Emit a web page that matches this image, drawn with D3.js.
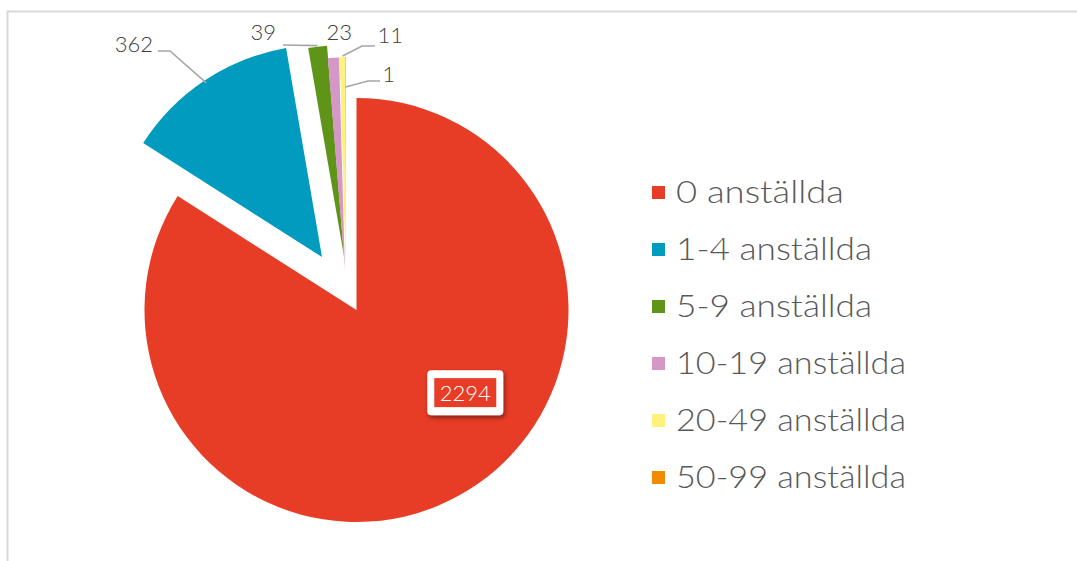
<!DOCTYPE html>
<html><head><meta charset="utf-8">
<script src="https://cdn.jsdelivr.net/npm/d3@7"></script>
<style>html,body{margin:0;padding:0;background:#fff;}svg{display:block;}</style>
</head><body>
<svg id="c" width="1077" height="561"></svg>
<script>
// ---- data ----
const categories = ["0 anställda","1-4 anställda","5-9 anställda","10-19 anställda","20-49 anställda","50-99 anställda"];
const values = [2294, 362, 39, 23, 11, 1];
const colors = ["#E73C25","#009BBE","#5E9418","#D597C5","#FFF27A","#F08A00"];

// ---- layout ----
const W = 1077, H = 561;
const cx = 355.5, cy = 309, R = 212;
const explode = [[1,1],[-33.5,-52],[-11.4,-52],[-10.6,-39.5],[-9.8,-40],[-9.8,-40]];
const FONT = "Lato, 'Open Sans', sans-serif";

const svg = d3.select("#c");
svg.append("rect").attr("x",7.5).attr("y",11.5).attr("width",W+20).attr("height",H+20)
  .attr("fill","none").attr("stroke","#d9d9d9").attr("stroke-width",2);

const pie = d3.pie().sort(null).value(d=>d).startAngle(0).endAngle(2*Math.PI);
const arcs = pie(values);
const arc = d3.arc().innerRadius(0).outerRadius(R);

const g = svg.append("g").attr("transform",`translate(${cx},${cy})`);
g.selectAll("path").data(arcs).enter().append("path")
  .attr("d",arc)
  .attr("fill",(d,i)=>colors[i])
  .attr("transform",(d,i)=>`translate(${explode[i][0]},${explode[i][1]})`);

function pt(i, r){
  const a = (arcs[i].startAngle+arcs[i].endAngle)/2;
  return [cx+explode[i][0]+Math.sin(a)*r, cy+explode[i][1]-Math.cos(a)*r];
}

// outside labels
const labelLayout = [
  {i:1, x:153, y:52, pts:[[158,51],[170,51]], r:R-3},
  {i:2, x:276, y:40, pts:[[283,45]], r:R+1},
  {i:3, x:352, y:40, pts:null},
  {i:4, x:403, y:43, pts:[[375,46],[362,46]], r:R+1},
  {i:5, x:395, y:82, pts:[[380,81],[368,81]], r:R-30}
];
labelLayout.forEach(l=>{
  if(l.pts){
    const p = l.pts.concat([pt(l.i,l.r)]);
    svg.append("path").attr("d",d3.line()(p)).attr("fill","none")
      .attr("stroke","#A6A6A6").attr("stroke-width",1.6);
  }
  svg.append("text").attr("x",l.x).attr("y",l.y).attr("text-anchor","end")
    .attr("font-family",FONT).attr("font-size",22).attr("font-weight",300)
    .attr("fill","#404040").text(values[l.i]);
});

// inside label for first slice
const defs = svg.append("defs");
const f = defs.append("filter").attr("id","sh").attr("x","-20%").attr("y","-20%").attr("width","150%").attr("height","160%");
f.append("feDropShadow").attr("dx",1.5).attr("dy",2.5).attr("stdDeviation",2).attr("flood-color","#000").attr("flood-opacity",0.45);
const a0 = 127.3*Math.PI/180, r0 = 138;
const lx = cx + Math.sin(a0)*r0, ly = cy - Math.cos(a0)*r0;
svg.append("rect").attr("x",lx-38).attr("y",ly-22.5).attr("width",76).attr("height",45)
  .attr("rx",4).attr("fill","#fff").attr("filter","url(#sh)");
svg.append("rect").attr("x",lx-31).attr("y",ly-14.5).attr("width",62).attr("height",29)
  .attr("fill",colors[0]);
svg.append("text").attr("x",lx).attr("y",ly+8.5).attr("text-anchor","middle")
  .attr("font-family",FONT).attr("font-size",22).attr("font-weight",300)
  .attr("fill","#fff").text(values[0]);

// legend
const legendWidths = [168,196,196,230,230,230];
const lg = svg.append("g");
categories.forEach((c,i)=>{
  const yc = 192.5 + i*57;
  lg.append("rect").attr("x",652).attr("y",yc-6.5).attr("width",13).attr("height",13).attr("fill",colors[i]);
  lg.append("text").attr("x",676).attr("y",yc+10.5)
    .attr("font-family",FONT).attr("font-size",31).attr("font-weight",300)
    .attr("fill","#595959")
    .attr("textLength",legendWidths[i]).attr("lengthAdjust","spacingAndGlyphs")
    .text(c);
});
</script>
</body></html>
